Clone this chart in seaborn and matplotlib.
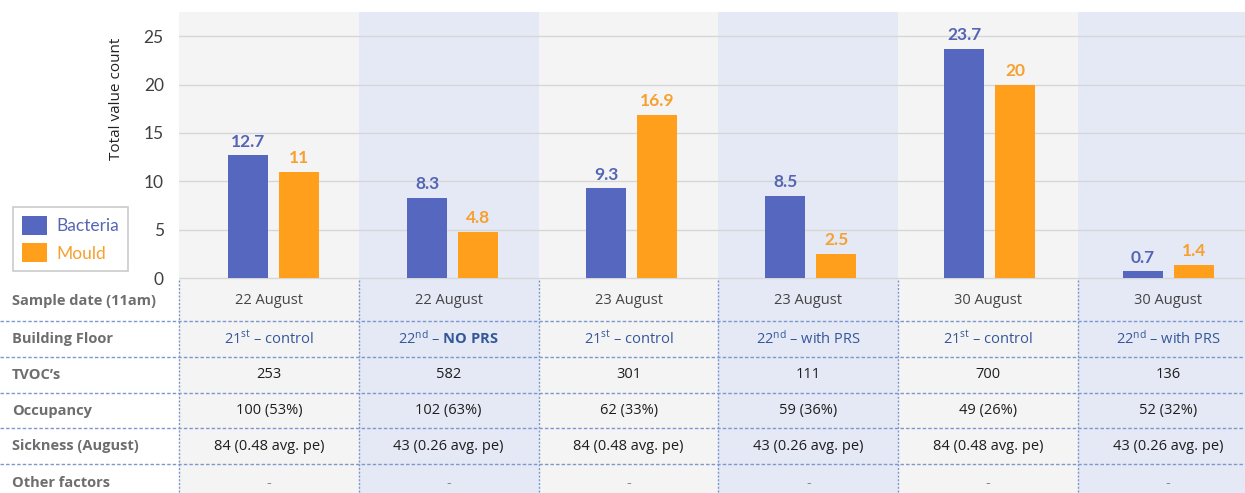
import matplotlib
matplotlib.use("Agg")
import matplotlib.pyplot as plt
import seaborn as sns
import pandas as pd
from matplotlib.lines import Line2D
from matplotlib.patches import Rectangle
from matplotlib.transforms import blended_transform_factory

# ---------------- data ----------------
categories = ["22 Aug / 21st", "22 Aug / 22nd", "23 Aug / 21st",
              "23 Aug / 22nd", "30 Aug / 21st", "30 Aug / 22nd"]
bacteria = [12.7, 8.3, 9.3, 8.5, 23.7, 0.7]
mould = [11, 4.8, 16.9, 2.5, 20, 1.4]
series_names = ["Bacteria", "Mould"]

row_labels = ["Sample date (11am)", "Building Floor", "TVOC\u2019s",
              "Occupancy", "Sickness (August)", "Other factors"]
sample_dates = ["22 August", "22 August", "23 August",
                "23 August", "30 August", "30 August"]
building_floor = [r"21$^{\mathrm{st}}$ – control",
                  r"22$^{\mathrm{nd}}$ – $\mathbf{NO\ PRS}$",
                  r"21$^{\mathrm{st}}$ – control",
                  r"22$^{\mathrm{nd}}$ – with PRS",
                  r"21$^{\mathrm{st}}$ – control",
                  r"22$^{\mathrm{nd}}$ – with PRS"]
tvocs = ["253", "582", "301", "111", "700", "136"]
occupancy = ["100 (53%)", "102 (63%)", "62 (33%)", "59 (36%)", "49 (26%)", "52 (32%)"]
sickness = ["84 (0.48 avg. pe)", "43 (0.26 avg. pe)", "84 (0.48 avg. pe)",
            "43 (0.26 avg. pe)", "84 (0.48 avg. pe)", "43 (0.26 avg. pe)"]
other_factors = ["-", "-", "-", "-", "-", "-"]
yticks = [0, 5, 10, 15, 20, 25]

# ---------------- style ----------------
sns.set_theme(style="white")
plt.rcParams["font.family"] = ["Lato", "DejaVu Sans"]
plt.rcParams["mathtext.fontset"] = "custom"
plt.rcParams["mathtext.rm"] = "Open Sans"
plt.rcParams["mathtext.it"] = "Open Sans:italic"
plt.rcParams["mathtext.bf"] = "Open Sans:bold"

BLUE = "#5567BE"
ORANGE = "#FF9F1C"
BLUE_TXT = "#5565B5"
ORANGE_TXT = "#F6A12E"
BG_GRAY = "#F4F4F4"
BG_BLUE = "#E4E9F5"
DASH = "#7D98CF"

W, H = 1245, 493
fig = plt.figure(figsize=(W / 100, H / 100), dpi=100, facecolor="white")

x_left = 179
ax = fig.add_axes([x_left / W, (H - 280) / H, 1 - x_left / W, (280 - 12) / H])
ax_t = fig.add_axes([x_left / W, 0, 1 - x_left / W, 213 / H])

df = pd.DataFrame({
    "category": categories * 2,
    "series": [series_names[0]] * len(categories) + [series_names[1]] * len(categories),
    "value": bacteria + mould,
})

# column shading (shared by chart and table, in table column coordinates)
bg_tr = blended_transform_factory(ax_t.transData, ax.transAxes)
for i in range(len(categories)):
    c = BG_GRAY if i % 2 == 0 else BG_BLUE
    ax.add_patch(Rectangle((i - 0.5, 0), 1, 1, transform=bg_tr, color=c,
                           lw=0, zorder=0))
    ax_t.axvspan(i - 0.5, i + 0.5, color=c, zorder=0, lw=0)

sns.barplot(data=df, x="category", y="value", hue="series",
            palette=[BLUE, ORANGE], saturation=1, width=0.57, gap=0.216,
            linewidth=0, edgecolor="none", ax=ax, zorder=2)

for cont, col in zip(ax.containers, [BLUE_TXT, ORANGE_TXT]):
    ax.bar_label(cont, fmt="%g", padding=4, color=col, fontsize=12.5,
                 fontweight="bold")

ax.set_xlim(-0.528, 5.427)
ax.set_ylim(-0.2, 27.5)
ax.set_yticks(yticks)
ax.yaxis.grid(True, color="#D6D6D6", lw=1)
ax.set_axisbelow(True)
ax.tick_params(axis="y", length=0, pad=11, labelsize=12.5, labelcolor="#404040")
ax.set_xticks([])
ax.set_xlabel("")
ax.set_ylabel("Total value count", fontsize=11, color="#222222",
              family=["Open Sans", "DejaVu Sans"])
ax.yaxis.set_label_coords(-55 / (W - x_left), (280 - 99) / 268)
for s in ax.spines.values():
    s.set_visible(False)

# legend
handles, labels = ax.get_legend_handles_labels()
if ax.legend_:
    ax.legend_.remove()
leg = fig.legend(handles, labels, loc="upper left",
                 bbox_to_anchor=(13 / W, 1 - 207 / H), bbox_transform=fig.transFigure,
                 fontsize=12.5, frameon=True, fancybox=False, edgecolor="#BDBDBD",
                 borderaxespad=0, handlelength=1.45, handleheight=1.35,
                 handletextpad=0.55, labelspacing=0.45, borderpad=0.5)
leg.get_frame().set_linewidth(1.2)
for t, col in zip(leg.get_texts(), [BLUE_TXT, ORANGE_TXT]):
    t.set_color(col)

# ---------------- table ----------------
ax_t.set_xlim(-0.5, 5.5 - 13 / 180)
ax_t.set_ylim(213, 0)
ax_t.set_xticks([])
ax_t.set_yticks([])
for s in ax_t.spines.values():
    s.set_visible(False)

row_edges = [0, 41, 77, 113, 148, 184, 222]
rows = [sample_dates, building_floor, tvocs, occupancy, sickness, other_factors]
row_colors = ["#444444", "#34579A", "#1E1E1E", "#1E1E1E", "#1E1E1E", "#8A8A8A"]
tfont = ["Open Sans", "DejaVu Sans"]
lab_tr = blended_transform_factory(fig.transFigure, ax_t.transData)

for r, (lab, vals, col) in enumerate(zip(row_labels, rows, row_colors)):
    yc = (row_edges[r] + row_edges[r + 1]) / 2
    ax_t.text(12 / W, yc, lab, transform=lab_tr, ha="left", va="center",
              fontsize=10.5, fontweight="bold", color="#6E6E6E", family=tfont)
    for i, v in enumerate(vals):
        ax_t.text(i, yc, v, ha="center", va="center", fontsize=10.5,
                  color=col, family=tfont)
    if r > 0:
        fig.add_artist(Line2D([0, 1], [row_edges[r], row_edges[r]], transform=lab_tr,
                              color=DASH, lw=1, ls=(0, (2.5, 1.5))))

for i in range(len(categories)):
    ax_t.plot([i - 0.5, i - 0.5], [0, 213], color=DASH, lw=1,
              ls=(0, (1.5, 1.2)), clip_on=False, zorder=3)

fig.savefig("out.png", dpi=100, facecolor="white")
